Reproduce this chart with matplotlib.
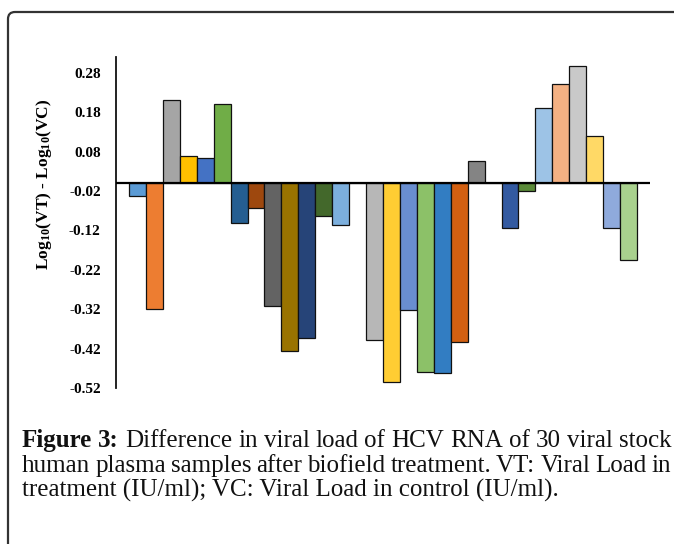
import numpy as np
import matplotlib
matplotlib.use("Agg")
import matplotlib.pyplot as plt
import matplotlib.transforms as mtransforms
from matplotlib.path import Path
from matplotlib.patches import PathPatch

# ---------------- data ----------------
samples = list(range(1, 31))
values = [-0.033, -0.320, 0.212, 0.068, 0.063, 0.200, -0.100, -0.062, -0.311, -0.425,
          -0.392, -0.084, -0.107, 0.0, -0.399, -0.506, -0.323, -0.479, -0.481, -0.402,
          0.057, 0.0, -0.114, -0.019, 0.190, 0.252, 0.298, 0.120, -0.114, -0.194]
colors = ["#5B9BD5", "#ED7D31", "#A5A5A5", "#FFC000", "#4472C4", "#70AD47",
          "#255E91", "#9E480E", "#636363", "#997300", "#264478", "#43682B",
          "#7CAFDD", "#F1975A", "#B7B7B7", "#FFCD33", "#698ED0", "#8CC168",
          "#327DC2", "#D26012", "#848484", "#CC9A00", "#335AA1", "#5A8A39",
          "#9DC3E6", "#F4B183", "#C9C9C9", "#FFD966", "#8FAADC", "#A9D18E"]
yticks = [-0.52, -0.42, -0.32, -0.22, -0.12, -0.02, 0.08, 0.18, 0.28]
ytick_labels = ["-0.52", "-0.42", "-0.32", "-0.22", "-0.12", "-0.02", "0.08", "0.18", "0.28"]
ylabel = r"Log$_{\mathbf{10}}$(VT) - Log$_{\mathbf{10}}$(VC)"
caption_lines = [
    [("Figure", True), ("3:", True), ("Difference", False), ("in", False), ("viral", False),
     ("load", False), ("of", False), ("HCV", False), ("RNA", False), ("of", False),
     ("30", False), ("viral", False), ("stock", False)],
    [("human", False), ("plasma", False), ("samples", False), ("after", False),
     ("biofield", False), ("treatment.", False), ("VT:", False), ("Viral", False),
     ("Load", False), ("in", False)],
    [("treatment (IU/ml); VC: Viral Load in control (IU/ml).", False)],
]

# ---------------- figure ----------------
W, H = 674, 544
plt.rcParams["mathtext.fontset"] = "custom"
plt.rcParams["mathtext.rm"] = "Liberation Serif:bold"
plt.rcParams["mathtext.bf"] = "Liberation Serif:bold"
plt.rcParams["mathtext.it"] = "Liberation Serif:bold"

fig = plt.figure(figsize=(W / 100, H / 100), dpi=100)
ax = fig.add_axes([116 / W, 1 - 388 / H, (650 - 116) / W, (388 - 57) / H])

ax.bar(samples, values, width=1.0, color=colors, edgecolor="#111111", linewidth=0.9, zorder=2)
ax.axhline(0, color="black", linewidth=1.6, zorder=3)

ax.set_xlim(-0.27, 31.27)
ax.set_ylim(-0.52, 0.32)
ax.set_yticks(yticks)
ax.set_yticklabels(ytick_labels, fontfamily="Liberation Serif", fontweight="bold", fontsize=11)
ax.tick_params(axis="y", length=0, pad=11)
ax.set_xticks([])
for s in ["top", "right", "bottom"]:
    ax.spines[s].set_visible(False)
ax.spines["left"].set_linewidth(1.3)
ax.spines["left"].set_color("#111111")

ident = mtransforms.IdentityTransform()
fig.text(44, H - 184, ylabel, rotation=90, ha="center", va="center",
         fontfamily="Liberation Serif", fontweight="bold", fontsize=12.5, transform=ident)

# frame with rounded corner (top-left)
r = 7
verts = [(8, -10), (8, H - 12 - r), (8, H - 12), (8 + r, H - 12), (W + 10, H - 12)]
codes = [Path.MOVETO, Path.LINETO, Path.CURVE3, Path.CURVE3, Path.LINETO]
fig.add_artist(PathPatch(Path(verts, codes), transform=ident, fill=False,
                         edgecolor="#333333", linewidth=1.6))

# caption (justified)
renderer = fig.canvas.get_renderer()

def measure(s, fs, bold):
    t = fig.text(0, 0, s, fontsize=fs, fontfamily="Liberation Serif",
                 fontweight="bold" if bold else "normal", transform=ident)
    w = t.get_window_extent(renderer).width
    t.remove()
    return w

x0, x1 = 22, 671
base_fs = 10
w3 = measure(caption_lines[2][0][0], base_fs, False)
fs = base_fs * (560 - 22) / w3
baselines = [447, 472, 497]
for line, yb in zip(caption_lines, baselines):
    widths = [measure(w, fs, b) for w, b in line]
    if len(line) > 1:
        gap = (x1 - x0 - sum(widths)) / (len(line) - 1)
    else:
        gap = 0
    x = x0
    for (w, b), wd in zip(line, widths):
        fig.text(x, H - yb, w, fontsize=fs, fontfamily="Liberation Serif",
                 fontweight="bold" if b else "normal", va="baseline", ha="left",
                 transform=ident, color="#111111")
        x += wd + gap

fig.savefig("out.png", dpi=100)
